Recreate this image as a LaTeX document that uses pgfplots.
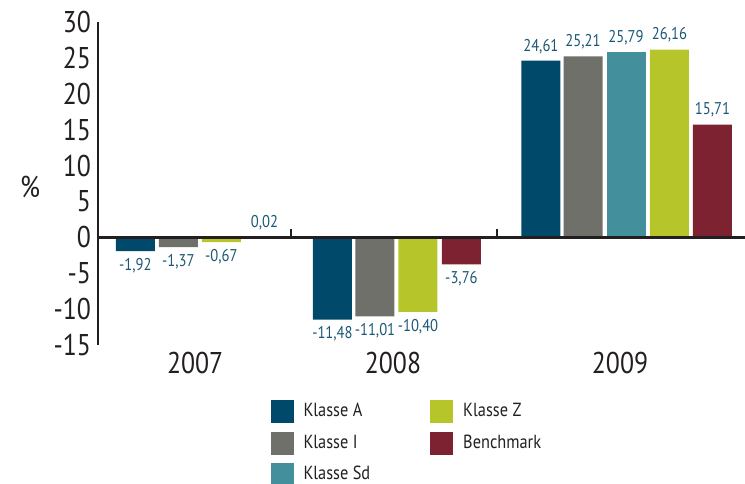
\documentclass[border=0pt]{standalone}
\usepackage{fontspec}
\setmainfont{PT Sans}[FakeStretch=0.86]
\usepackage{pgfplots}
\pgfplotsset{compat=1.18}

\definecolor{klA}{HTML}{00496A}
\definecolor{klI}{HTML}{6F7069}
\definecolor{klSd}{HTML}{43909C}
\definecolor{klZ}{HTML}{B6C529}
\definecolor{bench}{HTML}{7D2231}
\definecolor{lbl}{HTML}{1B5876}
\definecolor{ink}{HTML}{231F20}

\begin{document}
\begin{tikzpicture}
\begin{axis}[
    name=ax,
    scale only axis,
    width=323.5pt, height=161.5pt,
    xmin=0.13, xmax=15.177,
    ymin=-15, ymax=30,
    ytick={-15,-10,...,30},
    xtick={2.39,6.99,12.27},
    xticklabels={2007,2008,2009},
    axis x line*=bottom,
    axis y line*=left,
    x axis line style={draw=none},
    y axis line style={line width=1.1pt, color=ink, -},
    major tick length=0pt,
    ticklabel style={font=\fontsize{15}{15}\selectfont, color=ink},
    /pgf/number format/assume math mode=true,
    ylabel={\%},
    every axis y label/.style={at={(rel axis cs:0,0.49)}, xshift=-34pt, anchor=center, font=\fontsize{15}{15}\selectfont, color=ink},
    clip=false,
    ybar, bar shift=0pt, bar width=19.5pt,
    nodes near coords={\pgfmathprintnumber[fixed,fixed zerofill,precision=2,use comma,assume math mode=true]{\pgfplotspointmeta}},
    every node near coord/.append style={font=\fontsize{8.5}{8.5}\selectfont, color=lbl},
    legend columns=2,
    legend cell align=left,
    legend image code/.code={\fill[#1] (0pt,-5.75pt) rectangle (11.5pt,5.75pt);},
    legend style={draw=none, fill=none, at={(0.266,-0.167)}, anchor=north west,
        inner sep=0pt, font=\fontsize{9.5}{9.5}\selectfont, text=ink, row sep=3.5pt,
        /tikz/every odd column/.append style={column sep=3pt},
        /tikz/every even column/.append style={column sep=28pt}},
]
% order chosen so the two-column legend reads A, I, Sd | Z, Benchmark
\addplot[fill=klA, draw=none] coordinates {(1.00,-1.92) (5.583,-11.48) (10.43,24.61)};
\addlegendentry{Klasse A}
\addplot[fill=klZ, draw=none] coordinates {(3.00,-0.67) (7.572,-10.40) (13.42,26.16)};
\addlegendentry{Klasse Z}
\addplot[fill=klI, draw=none] coordinates {(2.00,-1.37) (6.572,-11.01) (11.41,25.21)};
\addlegendentry{Klasse I}
\addplot[fill=bench, draw=none] coordinates {(4.00,0.02) (8.583,-3.76) (14.42,15.71)};
\addlegendentry{Benchmark}
\addplot[fill=klSd, draw=none] coordinates {(12.41,25.79)};
\addlegendentry{Klasse Sd}

\draw[line width=1.2pt, ink] (axis cs:0.13,0) -- (axis cs:15.177,0);
\draw[line width=1.2pt, ink] (axis cs:4.62,0) -- (axis cs:4.62,1.2);
\draw[line width=1.2pt, ink] (axis cs:9.41,0) -- (axis cs:9.41,1.2);
\end{axis}
\pgfresetboundingbox
\path (ax.south west) ++(-49pt,-69pt) rectangle ++(372.5pt,241.5pt);
\end{tikzpicture}
\end{document}
